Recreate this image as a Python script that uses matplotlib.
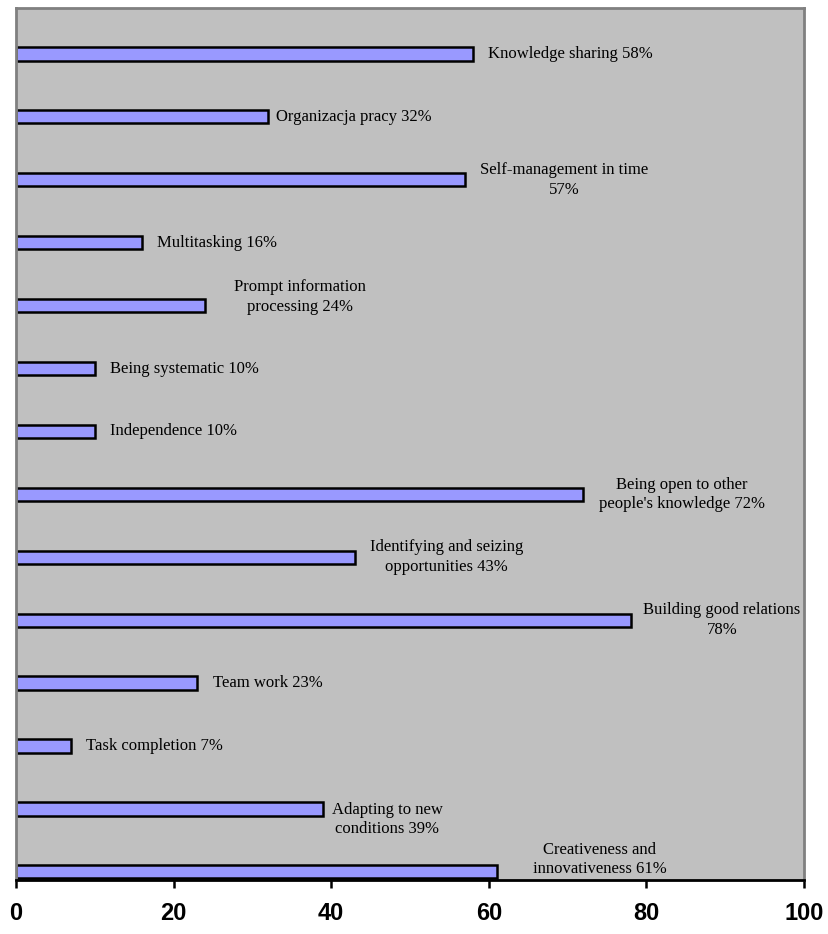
import matplotlib
matplotlib.use("Agg")
import matplotlib.pyplot as plt

# categories from top to bottom, as shown
labels = [
    "Knowledge sharing 58%",
    "Organizacja pracy 32%",
    "Self-management in time\n57%",
    "Multitasking 16%",
    "Prompt information\nprocessing 24%",
    "Being systematic 10%",
    "Independence 10%",
    "Being open to other\npeople's knowledge 72%",
    "Identifying and seizing\nopportunities 43%",
    "Building good relations\n78%",
    "Team work 23%",
    "Task completion 7%",
    "Adapting to new\nconditions 39%",
    "Creativeness and\ninnovativeness 61%",
]
values = [58, 32, 57, 16, 24, 10, 10, 72, 43, 78, 23, 7, 39, 61]

# label offsets from bar end (points): dx to the right, dy up
label_dx = [11, 6, 11, 11, 21, 11, 11, 11, 11, 9, 11, 11, 6, 26]
label_dy = [0, 0, 0, 0, 6, 0, 0, 0, 0, 0, 0, 0, -7.5, 9]

n = len(values)
ypos = [n - 1 - i for i in range(n)]

fig = plt.figure(figsize=(8.29, 9.34), dpi=100)
ax = fig.add_axes([16 / 829, 54 / 934, 788 / 829, 872 / 934])
ax.set_facecolor("#C0C0C0")

ax.barh(ypos, values, height=0.21, color="#9999FF", edgecolor="black", linewidth=1.8)

for y, v, lab, dx, dy in zip(ypos, values, labels, label_dx, label_dy):
    ax.annotate(lab, xy=(v, y), xytext=(dx, dy), textcoords="offset points",
                ha="left", va="center", multialignment="center",
                fontsize=12, family="Liberation Serif", color="black",
                linespacing=1.3)

ax.set_xlim(0, 100)
ax.set_ylim(-0.13, n - 1 + 0.73)
ax.set_xticks([0, 20, 40, 60, 80, 100])
ax.set_yticks([])
ax.tick_params(axis="x", direction="out", length=6, width=1.8, pad=10)
for t in ax.get_xticklabels():
    t.set_fontsize(17)
    t.set_fontweight("bold")
    t.set_family("Liberation Sans")

for s in ["left", "top", "right"]:
    ax.spines[s].set_color("#808080")
    ax.spines[s].set_linewidth(2)
ax.spines["bottom"].set_color("black")
ax.spines["bottom"].set_linewidth(2)

fig.savefig("out.png", dpi=100, facecolor="white")
